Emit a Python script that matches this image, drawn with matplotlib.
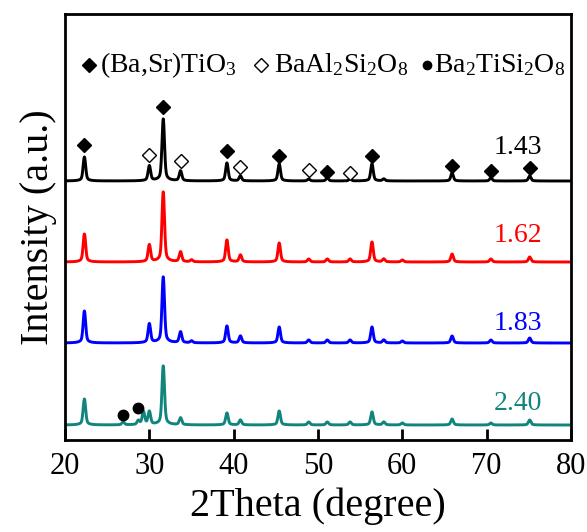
import numpy as np
import matplotlib
matplotlib.use("Agg")
import matplotlib.pyplot as plt

plt.rcParams['font.family'] = ['Liberation Serif', 'DejaVu Serif']
plt.rcParams['mathtext.fontset'] = 'custom'
plt.rcParams['mathtext.rm'] = 'Liberation Serif'
plt.rcParams['mathtext.it'] = 'Liberation Serif:italic'

# ---- data ----
samples = ['1.43', '1.62', '1.83', '2.40']
colors = ['#000000', '#ff0000', '#0000ff', '#11857d']
offsets = [259, 178, 97, 15]

pos_143 = [22.3, 30.0, 31.65, 33.7, 39.2, 40.8, 45.4, 48.9, 51.1, 53.8, 56.4, 57.8, 65.9, 70.5, 75.1]
h_143 = [24, 15, 62, 10, 18, 5, 17, 2, 3, 2, 17, 2, 8, 3, 5]

pos_162 = [22.3, 30.0, 31.65, 33.7, 35.0, 39.2, 40.8, 45.4, 48.9, 51.1, 53.8, 56.4, 57.8, 60.0, 65.9, 70.5, 75.1]
h_162 = [28, 17, 70, 10, 2, 22, 7, 19, 3, 3, 3, 20, 3, 2, 8, 3, 5]

pos_183 = [22.3, 30.0, 31.65, 33.7, 35.0, 39.2, 40.8, 45.4, 48.9, 51.1, 53.8, 56.4, 57.8, 60.0, 65.9, 70.5, 75.1]
h_183 = [32, 19, 66, 11, 2, 17, 7, 16, 3, 3, 3, 16, 3, 2, 7, 3, 5]

pos_240 = [22.3, 26.9, 28.7, 29.3, 30.0, 31.65, 33.7, 39.2, 40.8, 45.4, 48.9, 51.1, 53.8, 56.4, 57.8, 60.0, 65.9, 70.5, 75.1]
h_240 = [26, 3, 4, 13, 13, 59, 7, 12, 5, 14, 3, 3, 3, 13, 3, 2, 6, 2, 5]

peaks = [(pos_143, h_143), (pos_162, h_162), (pos_183, h_183), (pos_240, h_240)]

# phase marker positions
bst_x = [22.3, 31.65, 39.2, 45.4, 51.1, 56.4, 65.9, 70.5, 75.1]
bst_y = [295, 333, 289, 284, 268, 284, 274, 269, 272]
bas_x = [30.0, 33.7, 40.8, 48.9, 53.8]
bas_y = [285, 279, 273, 270, 267]
bts_x = [26.9, 28.7]
bts_y = [25, 32]

label_x = [73.7, 73.7, 73.7, 73.7]
label_y = [293, 205, 117, 37]

# ---- figure ----
fig = plt.figure(figsize=(5.87, 5.32), dpi=100)
L, R, T, B = 65, 571, 14, 440
ax = fig.add_axes([L/587, 1-B/532, (R-L)/587, (B-T)/532])

x = np.linspace(20, 80, 3000)
for (p, h), off, c in zip(peaks, offsets, colors):
    y = np.full_like(x, float(off))
    for xi, hi in zip(p, h):
        y += hi * (0.8 * np.exp(-0.5 * ((x - xi) / 0.14) ** 2) + 0.2 / (1 + ((x - xi) / 0.35) ** 2))
    ax.plot(x, y, color=c, lw=2.1)

ax.plot(bst_x, bst_y, 'D', ms=7.5, color='black', ls='none')
ax.plot(bas_x, bas_y, 'D', ms=7.5, mfc='white', mec='black', mew=1.0, ls='none')
ax.plot(bts_x, bts_y, 'o', ms=7.5, color='black', ls='none')

for s, c, lx, ly in zip(samples, colors, label_x, label_y):
    ax.text(lx, ly, s, color=c, fontsize=20, ha='center', va='center')

# legend line
ly = 1 - (65 - T) / (B - T)
def fx(px):
    return (px - L) / (R - L)
ax.plot([fx(89)], [ly], 'D', ms=7, color='black', transform=ax.transAxes, clip_on=False)
ax.text(fx(100), ly, r'(Ba,Sr)TiO$_3$', fontsize=20, va='center', transform=ax.transAxes)
ax.plot([fx(261)], [ly], 'D', ms=7, mfc='white', mec='black', mew=1.0, transform=ax.transAxes, clip_on=False)
ax.text(fx(274), ly, r'BaAl$_2$Si$_2$O$_8$', fontsize=20, va='center', transform=ax.transAxes)
ax.plot([fx(427)], [ly], 'o', ms=6, color='black', transform=ax.transAxes, clip_on=False)
ax.text(fx(434), ly, r'Ba$_2$TiSi$_2$O$_8$', fontsize=20, va='center', transform=ax.transAxes)

ax.set_xlim(20, 80)
ax.set_ylim(0, B - T)
ax.set_xticks([20, 30, 40, 50, 60, 70, 80])
ax.set_yticks([])
ax.tick_params(axis='x', direction='in', length=8, width=2, labelsize=22, pad=9)
for sp in ax.spines.values():
    sp.set_linewidth(2)
ax.set_xlabel('2Theta (degree)', fontsize=29, labelpad=4)
ax.set_ylabel('Intensity (a.u.)', fontsize=29, labelpad=6)

fig.savefig('out.png', dpi=100)
